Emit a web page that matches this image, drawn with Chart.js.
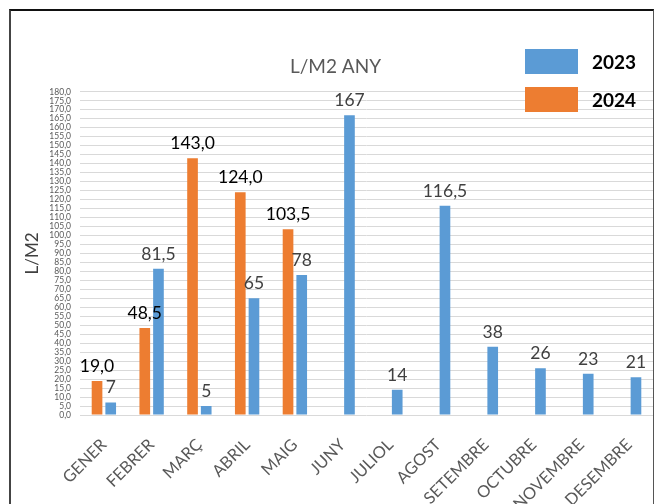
<!DOCTYPE html>
<html>
<head>
<meta charset="utf-8">
<script src="https://cdn.jsdelivr.net/npm/chart.js@4.4.1/dist/chart.umd.min.js"></script>
<style>
  html, body { margin: 0; padding: 0; background: #fff; }
  #wrap { position: relative; width: 659px; height: 504px; overflow: hidden; }
  #frame {
    position: absolute; left: 9px; top: 9px; width: 642px; height: 520px;
    border-top: 2px solid #111; border-left: 2px solid #444; border-right: 1px solid #555;
  }
  #chart { position: absolute; left: 0; top: 0; }
  #legend { position: absolute; left: 525px; top: 49px; font-family: Lato, sans-serif; }
  .item { display: flex; align-items: center; height: 25px; margin-bottom: 13px; }
  .box { width: 53px; height: 25px; margin-right: 14px; }
  .txt { font-weight: bold; font-size: 19px; color: #000; }
</style>
</head>
<body>
<div id="wrap">
  <div id="frame"></div>
  <canvas id="chart" width="659" height="504"></canvas>
  <div id="legend"></div>
</div>
<script>
  const months = ['GENER', 'FEBRER', 'MARÇ', 'ABRIL', 'MAIG', 'JUNY', 'JULIOL', 'AGOST', 'SETEMBRE', 'OCTUBRE', 'NOVEMBRE', 'DESEMBRE'];
  const rain2023 = [7, 81.5, 5, 65, 78, 167, 14, 116.5, 38, 26, 23, 21];
  const rain2024 = [19, 48.5, 143, 124, 103.5, null, null, null, null, null, null, null];
  const blue = '#5B9BD5';
  const orange = '#ED7D31';

  const fmt = (v, dec) => (dec ? v.toFixed(1) : String(v)).replace('.', ',');

  // value labels above the bars
  const barLabels = {
    id: 'barLabels',
    afterDatasetsDraw(chart) {
      const ctx = chart.ctx;
      ctx.save();
      ctx.font = '17.5px Lato, sans-serif';
      ctx.textAlign = 'center';
      ctx.textBaseline = 'bottom';
      chart.data.datasets.forEach((ds, i) => {
        const meta = chart.getDatasetMeta(i);
        meta.data.forEach((bar, j) => {
          const v = ds.data[j];
          if (v === null) return;
          ctx.fillStyle = ds.labelColor;
          ctx.fillText(fmt(v, ds.oneDecimal), bar.x, bar.y - 6);
        });
      });
      ctx.restore();
    }
  };

  const chart = new Chart(document.getElementById('chart'), {
    type: 'bar',
    data: {
      labels: months,
      datasets: [
        { label: '2024', data: rain2024, backgroundColor: orange, labelColor: '#000', oneDecimal: true },
        { label: '2023', data: rain2023, backgroundColor: blue, labelColor: '#404040', oneDecimal: false }
      ]
    },
    options: {
      responsive: false,
      animation: false,
      devicePixelRatio: 1,
      categoryPercentage: 0.573,
      barPercentage: 0.78,
      layout: { padding: { left: 18, right: 6, top: 0, bottom: 0 } },
      plugins: {
        legend: { display: false },
        tooltip: { enabled: false },
        title: {
          display: true,
          text: 'L/M2 ANY',
          color: '#595959',
          font: { family: 'Lato, sans-serif', size: 19, weight: 'normal' },
          padding: { top: 55, bottom: 14 }
        }
      },
      scales: {
        x: {
          grid: { display: false },
          border: { display: false },
          ticks: {
            color: '#595959',
            font: { family: 'Lato, sans-serif', size: 16.5 },
            maxRotation: 45,
            minRotation: 45,
            autoSkip: false,
            padding: 12
          },
          afterFit: (s) => { s.height = 89; }
        },
        y: {
          min: 0,
          max: 180,
          grid: { color: '#d9d9d9', drawTicks: false },
          border: { display: false },
          ticks: {
            stepSize: 5,
            autoSkip: false,
            color: '#595959',
            font: { family: 'Lato, sans-serif', size: 8.5 },
            padding: 9,
            callback: (v) => fmt(v, true)
          },
          title: {
            display: true,
            text: 'L/M2',
            color: '#404040',
            font: { family: 'Lato, sans-serif', size: 17 },
            padding: { top: 4, bottom: 0 }
          },
          afterFit: (s) => { s.width = 62; }
        }
      }
    },
    plugins: [barLabels]
  });

  // legend: 2023 first, as in the original
  const legend = document.getElementById('legend');
  [chart.data.datasets[1], chart.data.datasets[0]].forEach((ds) => {
    const item = document.createElement('div');
    item.className = 'item';
    item.innerHTML = '<div class="box" style="background:' + ds.backgroundColor + '"></div><span class="txt">' + ds.label + '</span>';
    legend.appendChild(item);
  });
</script>
</body>
</html>
